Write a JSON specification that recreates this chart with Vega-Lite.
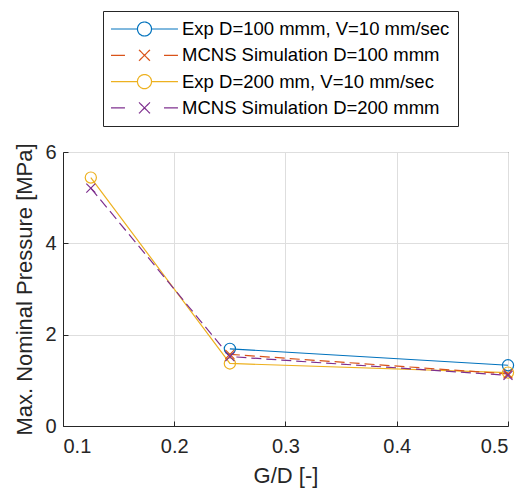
{
  "$schema": "https://vega.github.io/schema/vega-lite/v6.json",
  "width": 445,
  "height": 274,
  "autosize": "none",
  "padding": {"left": 63, "top": 152, "right": 16, "bottom": 63},
  "background": "white",
  "config": {
    "font": "Liberation Sans",
    "view": {"stroke": "#262626", "strokeWidth": 1},
    "axis": {
      "domainColor": "#262626",
      "tickColor": "#262626",
      "tickSize": -5,
      "labelFont": "Liberation Sans",
      "labelFontSize": 20,
      "labelColor": "#262626",
      "titleFont": "Liberation Sans",
      "titleFontSize": 22,
      "titleFontWeight": "normal",
      "titleColor": "#262626",
      "gridColor": "#dedede",
      "gridWidth": 1
    }
  },
  "data": {
    "values": [
      {"series": "Exp D=100 mmm, V=10 mm/sec", "gd": 0.25, "p": 1.69},
      {"series": "Exp D=100 mmm, V=10 mm/sec", "gd": 0.5, "p": 1.33},
      {"series": "MCNS Simulation D=100 mmm", "gd": 0.25, "p": 1.57},
      {"series": "MCNS Simulation D=100 mmm", "gd": 0.5, "p": 1.14},
      {"series": "Exp D=200 mm, V=10 mm/sec", "gd": 0.125, "p": 5.44},
      {"series": "Exp D=200 mm, V=10 mm/sec", "gd": 0.25, "p": 1.37},
      {"series": "Exp D=200 mm, V=10 mm/sec", "gd": 0.5, "p": 1.17},
      {"series": "MCNS Simulation D=200 mmm", "gd": 0.125, "p": 5.21},
      {"series": "MCNS Simulation D=200 mmm", "gd": 0.25, "p": 1.52},
      {"series": "MCNS Simulation D=200 mmm", "gd": 0.5, "p": 1.11}
    ]
  },
  "encoding": {
    "x": {
      "field": "gd",
      "type": "quantitative",
      "title": "G/D [-]",
      "scale": {"domain": [0.1, 0.5], "nice": false, "zero": false},
      "axis": {"values": [0.1, 0.2, 0.3, 0.4, 0.5], "format": ".1f", "labelPadding": 15, "titlePadding": 9}
    },
    "y": {
      "field": "p",
      "type": "quantitative",
      "title": "Max. Nominal Pressure [MPa]",
      "scale": {"domain": [0, 6], "nice": false},
      "axis": {"values": [0, 2, 4, 6], "labelPadding": 12, "titlePadding": 8}
    },
    "color": {
      "field": "series",
      "type": "nominal",
      "scale": {
        "domain": ["Exp D=100 mmm, V=10 mm/sec", "MCNS Simulation D=100 mmm", "Exp D=200 mm, V=10 mm/sec", "MCNS Simulation D=200 mmm"],
        "range": ["#0072BD", "#D95319", "#EDB120", "#7E2F8E"]
      },
      "legend": {
        "title": null,
        "orient": "none",
        "legendX": 40,
        "legendY": -141,
        "direction": "vertical",
        "labelFont": "Liberation Sans",
        "labelFontSize": 18.5,
        "labelColor": "#000000",
        "labelLimit": 400,
        "symbolSize": 324,
        "symbolStrokeWidth": 1.2,
        "labelOffset": 51,
        "rowPadding": 6.3,
        "padding": 8,
        "strokeColor": "#262626",
        "fillColor": "white",
        "encode": {
          "symbols": {
            "update": {
              "shape": {"signal": "indexof(datum.value, 'Exp') === 0 ? 'M-1.11,0L1.83,0M3.39,0L6.33,0M3.39,0A0.78,0.78 0 1,1 1.83,0A0.78,0.78 0 1,1 3.39,0' : 'M-1.11,0L0.44,0M2,-0.61L3.22,0.61M3.22,-0.61L2,0.61M4.78,0L6.33,0'"},
              "fill": {"value": "transparent"},
              "stroke": {"scale": "color", "field": "value"},
              "strokeDash": {"value": [1, 0]},
              "strokeWidth": {"value": 1.2},
              "opacity": {"value": 1}
            }
          }
        }
      }
    }
  },
  "layer": [
    {
      "transform": [{"filter": "indexof(datum.series, 'Exp') === 0"}],
      "mark": {"type": "line", "strokeWidth": 1.2}
    },
    {
      "transform": [{"filter": "indexof(datum.series, 'MCNS') === 0"}],
      "mark": {"type": "line", "strokeWidth": 1.2, "strokeDash": [10, 5]}
    },
    {
      "transform": [{"filter": "indexof(datum.series, 'Exp') === 0"}],
      "mark": {"type": "point", "shape": "circle", "size": 125, "filled": false, "strokeWidth": 1.2, "opacity": 1}
    },
    {
      "transform": [{"filter": "indexof(datum.series, 'MCNS') === 0"}],
      "mark": {"type": "point", "shape": "M-1,-1L1,1M1,-1L-1,1", "size": 81, "filled": false, "strokeWidth": 1.2, "opacity": 1}
    }
  ]
}
